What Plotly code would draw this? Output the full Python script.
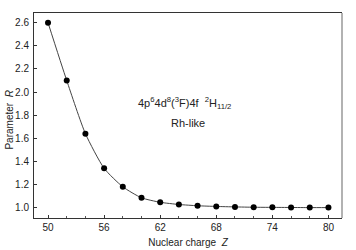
import plotly.graph_objects as go

Z = [50, 52, 54, 56, 58, 60, 62, 64, 66, 68, 70, 72, 74, 76, 78, 80]
R = [2.60, 2.10, 1.64, 1.34, 1.18, 1.085, 1.046, 1.027, 1.016, 1.01, 1.006, 1.003, 1.002, 1.001, 1.0, 1.0]
x_ticks = [50, 56, 62, 68, 74, 80]
y_ticks = [1.0, 1.2, 1.4, 1.6, 1.8, 2.0, 2.2, 2.4, 2.6]

fig = go.Figure()
fig.add_trace(go.Scatter(
    x=Z, y=R, mode="lines+markers",
    line=dict(color="#444444", width=1, shape="spline", smoothing=0.6),
    marker=dict(color="black", size=6),
    showlegend=False,
))

font = dict(family="Liberation Sans, Arial, sans-serif", size=10, color="#222222")

fig.update_layout(
    width=356, height=250,
    margin=dict(l=34, r=14, t=13, b=32),
    paper_bgcolor="white", plot_bgcolor="white",
    font=font,
    xaxis=dict(
        range=[48.5, 81.45], tickvals=x_ticks, ticktext=[str(v) for v in x_ticks],
        ticks="inside", ticklen=3, tickcolor="#333", showgrid=False, zeroline=False,
        showline=True, linecolor="#333", linewidth=1, mirror=True, automargin=False,
        minor=dict(dtick=2, tick0=50, ticks="inside", ticklen=2, tickcolor="#555", showgrid=False),
        title=dict(text="Nuclear charge  <i>Z</i>", font=font, standoff=6),
    ),
    yaxis=dict(
        range=[0.91, 2.684], tickvals=y_ticks, ticktext=[f"{v:.1f}" for v in y_ticks],
        ticks="inside", ticklen=3, tickcolor="#333", showgrid=False, zeroline=False,
        showline=True, linecolor="#333", linewidth=1, ticklabelstandoff=2, automargin=False,
    ),
    shapes=[dict(type="line", xref="paper", yref="paper", x0=1, x1=1, y0=0, y1=1,
                 line=dict(color="#999999", width=1.5))],
    annotations=[
        dict(x=-0.078, y=0.48, xref="paper", yref="paper", showarrow=False,
             text="Parameter  <i>R</i>", textangle=-90, font=font,
             xanchor="center", yanchor="middle"),
        dict(x=0.49, y=0.56, xref="paper", yref="paper", showarrow=False,
             text="4p<sup>6</sup>4d<sup>8</sup>(<sup>3</sup>F)4f  <sup>2</sup>H<sub>11/2</sub>",
             font=dict(family="Liberation Sans, Arial, sans-serif", size=11, color="#222"),
             xanchor="center", yanchor="middle"),
        dict(x=0.5, y=0.462, xref="paper", yref="paper", showarrow=False,
             text="Rh-like", font=dict(family="Liberation Sans, Arial, sans-serif", size=11, color="#222"),
             xanchor="center", yanchor="middle"),
    ],
)

fig.write_html("out.html", config={"displayModeBar": False},
               post_script="document.body.style.margin='0';")
